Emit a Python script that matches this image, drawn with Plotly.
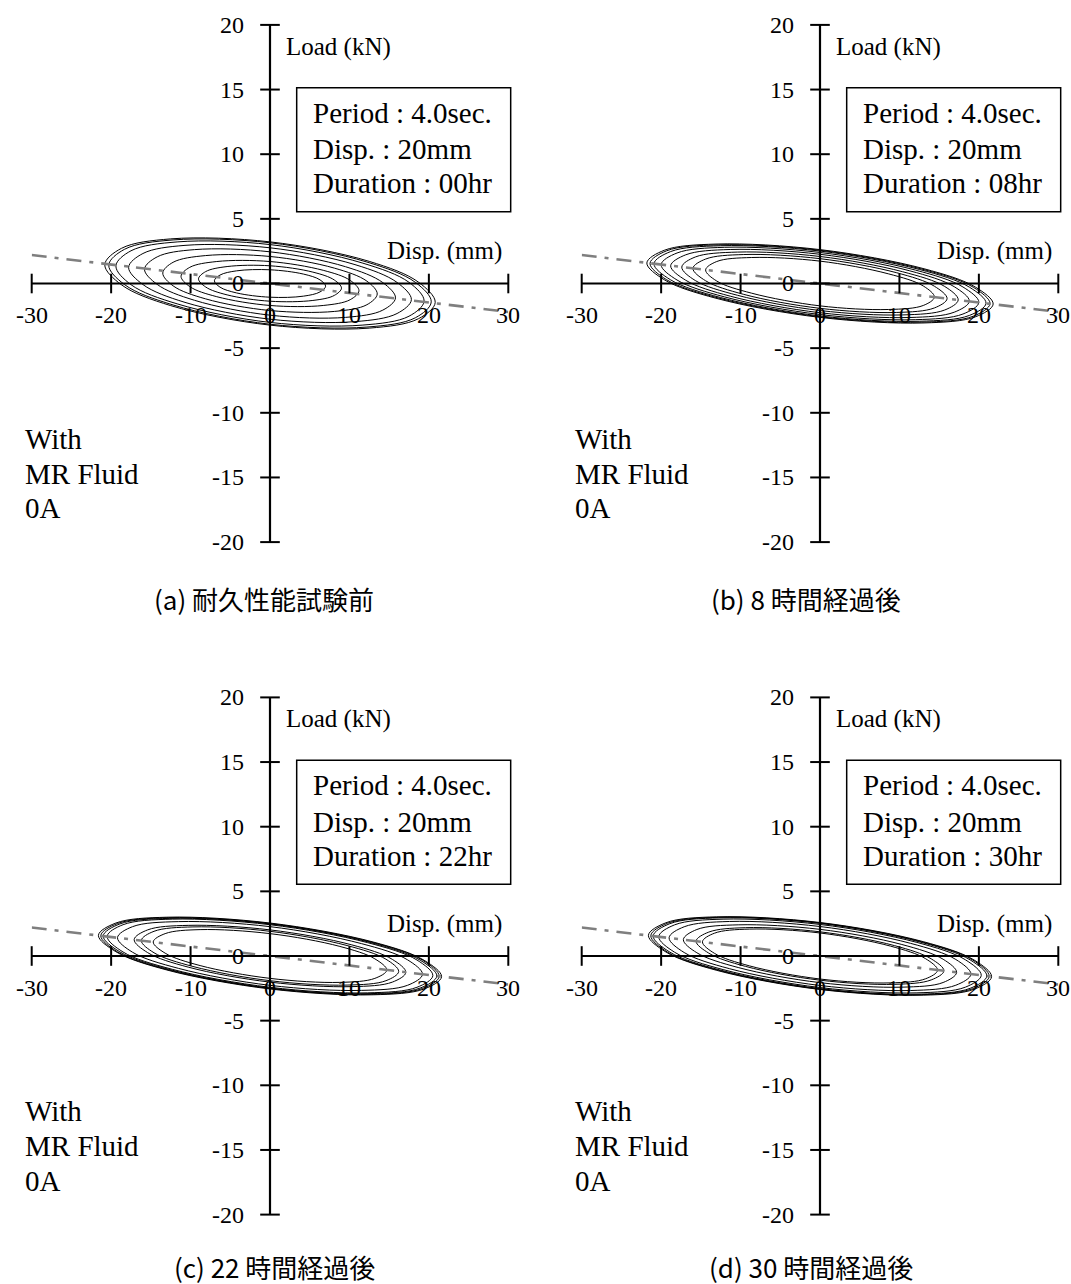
import plotly.graph_objects as go

W, H = 1071, 1284

# ---- data -------------------------------------------------------------
X_TICKS = [-30, -20, -10, 0, 10, 20, 30]
Y_TICKS = [-20, -15, -10, -5, 0, 5, 10, 15, 20]

# dash-dot reference line through the origin
GUIDE_DISP = [-30, 30]
GUIDE_LOAD = [2.2, -2.2]

DURATIONS = ["00hr", "08hr", "22hr", "30hr"]
CAPTIONS = ["(a) 耐久性能試験前", "(b) 8 時間経過後", "(c) 22 時間経過後", "(d) 30 時間経過後"]

# Hysteresis loops: displacement stations (left tip -> right tip), load on the
# upper branch at every station, load on the lower branch at the interior
# stations (left -> right).
DISP_A = [
    [-7.0, -6.3, -4.2, 0, 4.2, 6.3, 7.0],
    [-9.0, -8.1, -5.4, 0, 5.4, 8.1, 9.0],
    [-11.2, -10.1, -6.7, 0, 6.7, 10.1, 11.2],
    [-13.5, -12.2, -8.1, 0, 8.1, 12.2, 13.5],
    [-15.8, -14.2, -9.5, 0, 9.5, 14.2, 15.8],
    [-17.8, -16.0, -10.7, 0, 10.7, 16.0, 17.8],
    [-19.4, -17.5, -11.6, 0, 11.6, 17.5, 19.4],
    [-20.3, -18.3, -12.2, 0, 12.2, 18.3, 20.3],
    [-20.8, -18.7, -12.5, 0, 12.5, 18.7, 20.8],
]
UPPER_A = [
    [0.21, 0.65, 0.98, 1.06, 0.73, 0.28, -0.21],
    [0.36, 0.92, 1.31, 1.37, 0.88, 0.27, -0.36],
    [0.56, 1.25, 1.70, 1.70, 1.02, 0.24, -0.56],
    [0.81, 1.64, 2.16, 2.09, 1.19, 0.18, -0.81],
    [1.11, 2.06, 2.62, 2.45, 1.30, 0.07, -1.11],
    [1.25, 2.32, 2.95, 2.76, 1.46, 0.08, -1.25],
    [1.36, 2.53, 3.22, 3.01, 1.59, 0.09, -1.36],
    [1.42, 2.65, 3.37, 3.15, 1.66, 0.09, -1.42],
    [1.46, 2.72, 3.45, 3.22, 1.71, 0.10, -1.46],
]
LOWER_A = [
    [-0.28, -0.73, -1.06, -0.98, -0.65],
    [-0.27, -0.88, -1.37, -1.31, -0.92],
    [-0.24, -1.02, -1.70, -1.70, -1.25],
    [-0.18, -1.19, -2.09, -2.16, -1.64],
    [-0.07, -1.30, -2.45, -2.62, -2.06],
    [-0.08, -1.46, -2.76, -2.95, -2.32],
    [-0.09, -1.59, -3.01, -3.22, -2.53],
    [-0.09, -1.66, -3.15, -3.37, -2.65],
    [-0.10, -1.71, -3.22, -3.45, -2.72],
]

DISP_B = [
    [-14.4, -13.0, -8.6, 0, 8.6, 13.0, 14.4],
    [-16.0, -14.4, -9.6, 0, 9.6, 14.4, 16.0],
    [-17.4, -15.7, -10.4, 0, 10.4, 15.7, 17.4],
    [-18.8, -16.9, -11.3, 0, 11.3, 16.9, 18.8],
    [-20.0, -18.0, -12.0, 0, 12.0, 18.0, 20.0],
    [-20.9, -18.8, -12.5, 0, 12.5, 18.8, 20.9],
    [-21.4, -19.3, -12.8, 0, 12.8, 19.3, 21.4],
    [-21.8, -19.6, -13.1, 0, 13.1, 19.6, 21.8],
]
UPPER_B = [
    [1.05, 1.70, 2.01, 1.73, 0.75, -0.19, -1.05],
    [1.17, 1.89, 2.24, 1.92, 0.84, -0.21, -1.17],
    [1.27, 2.05, 2.43, 2.09, 0.91, -0.23, -1.27],
    [1.37, 2.22, 2.63, 2.26, 0.98, -0.25, -1.37],
    [1.46, 2.36, 2.80, 2.40, 1.04, -0.27, -1.46],
    [1.53, 2.47, 2.92, 2.51, 1.09, -0.28, -1.53],
    [1.56, 2.53, 2.99, 2.57, 1.12, -0.29, -1.56],
    [1.59, 2.57, 3.05, 2.62, 1.14, -0.29, -1.59],
]
LOWER_B = [
    [0.19, -0.75, -1.73, -2.01, -1.70],
    [0.21, -0.84, -1.92, -2.24, -1.89],
    [0.23, -0.91, -2.09, -2.43, -2.05],
    [0.25, -0.98, -2.26, -2.63, -2.22],
    [0.27, -1.04, -2.40, -2.80, -2.36],
    [0.28, -1.09, -2.51, -2.92, -2.47],
    [0.29, -1.12, -2.57, -2.99, -2.53],
    [0.29, -1.14, -2.62, -3.05, -2.57],
]

DISP_C = [
    [-14.7, -13.2, -8.8, 0, 8.8, 13.2, 14.7],
    [-16.2, -14.6, -9.7, 0, 9.7, 14.6, 16.2],
    [-17.1, -15.4, -10.3, 0, 10.3, 15.4, 17.1],
    [-19.2, -17.3, -11.5, 0, 11.5, 17.3, 19.2],
    [-20.5, -18.5, -12.3, 0, 12.3, 18.5, 20.5],
    [-21.0, -18.9, -12.6, 0, 12.6, 18.9, 21.0],
    [-21.3, -19.2, -12.8, 0, 12.8, 19.2, 21.3],
    [-21.6, -19.4, -13.0, 0, 13.0, 19.4, 21.6],
]
UPPER_C = [
    [1.09, 1.73, 2.04, 1.73, 0.74, -0.22, -1.09],
    [1.20, 1.91, 2.25, 1.91, 0.81, -0.25, -1.20],
    [1.27, 2.02, 2.37, 2.02, 0.86, -0.26, -1.27],
    [1.42, 2.27, 2.66, 2.27, 0.96, -0.29, -1.42],
    [1.52, 2.42, 2.85, 2.42, 1.03, -0.31, -1.52],
    [1.55, 2.48, 2.91, 2.48, 1.05, -0.32, -1.55],
    [1.58, 2.51, 2.96, 2.51, 1.07, -0.32, -1.58],
    [1.60, 2.55, 3.00, 2.55, 1.08, -0.33, -1.60],
]
LOWER_C = [
    [0.22, -0.74, -1.73, -2.04, -1.73],
    [0.25, -0.81, -1.91, -2.25, -1.91],
    [0.26, -0.86, -2.02, -2.37, -2.02],
    [0.29, -0.96, -2.27, -2.66, -2.27],
    [0.31, -1.03, -2.42, -2.85, -2.42],
    [0.32, -1.05, -2.48, -2.91, -2.48],
    [0.32, -1.07, -2.51, -2.96, -2.51],
    [0.33, -1.08, -2.55, -3.00, -2.55],
]

DISP_D = [
    [-14.8, -13.3, -8.9, 0, 8.9, 13.3, 14.8],
    [-15.6, -14.0, -9.4, 0, 9.4, 14.0, 15.6],
    [-17.2, -15.5, -10.3, 0, 10.3, 15.5, 17.2],
    [-19.0, -17.1, -11.4, 0, 11.4, 17.1, 19.0],
    [-20.3, -18.3, -12.2, 0, 12.2, 18.3, 20.3],
    [-21.0, -18.9, -12.6, 0, 12.6, 18.9, 21.0],
    [-21.3, -19.2, -12.8, 0, 12.8, 19.2, 21.3],
    [-21.6, -19.4, -13.0, 0, 13.0, 19.4, 21.6],
]
UPPER_D = [
    [1.10, 1.76, 2.08, 1.78, 0.76, -0.21, -1.10],
    [1.15, 1.85, 2.19, 1.87, 0.80, -0.22, -1.15],
    [1.27, 2.05, 2.41, 2.06, 0.89, -0.25, -1.27],
    [1.41, 2.26, 2.67, 2.28, 0.98, -0.27, -1.41],
    [1.50, 2.41, 2.85, 2.44, 1.05, -0.29, -1.50],
    [1.55, 2.50, 2.95, 2.52, 1.08, -0.30, -1.55],
    [1.58, 2.53, 2.99, 2.56, 1.10, -0.30, -1.58],
    [1.60, 2.57, 3.03, 2.59, 1.11, -0.31, -1.60],
]
LOWER_D = [
    [0.21, -0.76, -1.78, -2.08, -1.76],
    [0.22, -0.80, -1.87, -2.19, -1.85],
    [0.25, -0.89, -2.06, -2.41, -2.05],
    [0.27, -0.98, -2.28, -2.67, -2.26],
    [0.29, -1.05, -2.44, -2.85, -2.41],
    [0.30, -1.08, -2.52, -2.95, -2.50],
    [0.30, -1.10, -2.56, -2.99, -2.53],
    [0.31, -1.11, -2.59, -3.03, -2.57],
]

PANELS = [
    (DISP_A, UPPER_A, LOWER_A),
    (DISP_B, UPPER_B, LOWER_B),
    (DISP_C, UPPER_C, LOWER_C),
    (DISP_D, UPPER_D, LOWER_D),
]

# ---- layout geometry (pixels) ----------------------------------------
COL_PX = [(31.7, 508.3), (581.7, 1058.3)]   # x = -30 .. 30
ROW_PX = [(24.9, 542.1), (697.4, 1214.6)]   # y = 20 .. -20
CAPTION_X = [-0.8, -1.8, 0.6, -1.1]
CAPTION_Y = [-24.4, -24.0]

SERIF = "Liberation Serif, Times New Roman, serif"
CJK = "Noto Sans CJK JP, Noto Sans, sans-serif"


def loop_path(d, up, lo):
    # start on the flat top at d = 0, run right along the upper branch,
    # back along the lower branch, round the left tip and up to the start
    xs = d[3:] + d[5:0:-1] + d[0:4]
    ys = up[3:] + lo[::-1] + up[0:4]
    return xs, ys


def dom_x(v):
    return (v + 30) / 60


def dom_y(v):
    return (v + 20) / 40


fig = go.Figure()
annotations = []
shapes = []

for k, (disp, upper, lower) in enumerate(PANELS):
    row, col = divmod(k, 2)
    sfx = "" if k == 0 else str(k + 1)
    xa, ya = "x" + sfx, "y" + sfx
    x0p, x1p = COL_PX[col]
    y0p, y1p = ROW_PX[row]
    fig.layout["xaxis" + sfx] = dict(
        domain=[x0p / W, x1p / W], range=[-30, 30], visible=False,
        anchor=ya, fixedrange=True)
    fig.layout["yaxis" + sfx] = dict(
        domain=[1 - y1p / H, 1 - y0p / H], range=[-20, 20], visible=False,
        anchor=xa, fixedrange=True)

    # loops
    lx, ly = [], []
    for d, up, lo in zip(disp, upper, lower):
        xs, ys = loop_path(d, up, lo)
        lx += xs + [None]
        ly += ys + [None]
    fig.add_trace(go.Scatter(
        x=lx, y=ly, mode="lines", xaxis=xa, yaxis=ya,
        line=dict(color="black", width=1, shape="spline", smoothing=1.0),
        connectgaps=False, hoverinfo="skip"))

    # dash-dot guide
    fig.add_trace(go.Scatter(
        x=GUIDE_DISP, y=GUIDE_LOAD, mode="lines", xaxis=xa, yaxis=ya,
        line=dict(color="#7f7f7f", width=2.6, dash="15px,8px,4px,8px"),
        hoverinfo="skip"))

    # cross-shaped axes through the origin
    fig.add_trace(go.Scatter(
        x=[X_TICKS[0], X_TICKS[-1]], y=[0, 0], mode="lines",
        xaxis=xa, yaxis=ya, line=dict(color="black", width=2.2),
        cliponaxis=False, hoverinfo="skip"))
    fig.add_trace(go.Scatter(
        x=[0, 0], y=[Y_TICKS[0], Y_TICKS[-1]], mode="lines",
        xaxis=xa, yaxis=ya, line=dict(color="black", width=2.2),
        cliponaxis=False, hoverinfo="skip"))
    fig.add_trace(go.Scatter(
        x=X_TICKS, y=[0] * len(X_TICKS), mode="markers", xaxis=xa, yaxis=ya,
        marker=dict(symbol="line-ns", size=14,
                    line=dict(color="black", width=2)),
        cliponaxis=False, hoverinfo="skip"))
    fig.add_trace(go.Scatter(
        x=[0] * len(Y_TICKS), y=Y_TICKS, mode="markers", xaxis=xa, yaxis=ya,
        marker=dict(symbol="line-ew", size=14,
                    line=dict(color="black", width=2)),
        cliponaxis=False, hoverinfo="skip"))

    def ann(text, x, y, size, xanchor="center", yanchor="middle",
            family=SERIF, domain=False):
        annotations.append(dict(
            text=text, x=x, y=y,
            xref=xa + (" domain" if domain else ""),
            yref=ya + (" domain" if domain else ""),
            showarrow=False, xanchor=xanchor, yanchor=yanchor, align="left",
            font=dict(family=family, size=size, color="black")))

    for v in X_TICKS:
        ann(str(v), v, -2.45, 24)
    for v in Y_TICKS:
        ann(str(v), -3.0, v, 24, xanchor="right")

    ann("Load (kN)", 1.7, 18.3, 25, xanchor="left")
    ann("Disp. (mm)", 29.4, 2.5, 25, xanchor="right")

    # condition box
    bx0, bx1, by0, by1 = 3.36, 30.3, 5.55, 15.14
    shapes.append(dict(
        type="rect", xref=xa + " domain", yref=ya + " domain",
        x0=dom_x(bx0), x1=dom_x(bx1), y0=dom_y(by0), y1=dom_y(by1),
        line=dict(color="black", width=1.5), fillcolor="rgba(0,0,0,0)"))
    ann("Period : 4.0sec.", 5.1, 13.21, 29, xanchor="left")
    ann("Disp. : 20mm", 5.1, 10.38, 29, xanchor="left")
    ann("Duration : " + DURATIONS[k], 5.1, 7.75, 29, xanchor="left")

    ann("With", dom_x(-31.1), dom_y(-12.0), 29, xanchor="left", domain=True)
    ann("MR Fluid", dom_x(-31.1), dom_y(-14.7), 29, xanchor="left",
        domain=True)
    ann("0A", dom_x(-31.1), dom_y(-17.4), 29, xanchor="left", domain=True)

    ann(CAPTIONS[k], dom_x(CAPTION_X[k]), dom_y(CAPTION_Y[row]), 26,
        family=CJK, domain=True)

fig.update_layout(
    width=W, height=H, autosize=False,
    margin=dict(l=0, r=0, t=0, b=0),
    paper_bgcolor="white", plot_bgcolor="white",
    showlegend=False, hovermode=False,
    annotations=annotations, shapes=shapes)

fig.write_html("out.html")
